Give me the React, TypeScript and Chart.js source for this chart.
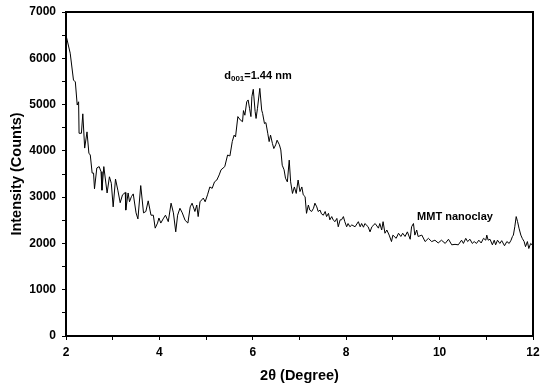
import React, { useEffect, useRef } from "react";
import { Chart, registerables } from "chart.js";

Chart.register(...registerables);

const twoTheta: number[] = [
  2.0, 2.09, 2.16, 2.2, 2.24, 2.27, 2.28, 2.33, 2.36, 2.4, 2.45, 2.49, 2.52, 2.56, 2.59, 2.61, 2.66, 2.71, 2.75, 2.77,
  2.81, 2.88, 2.93, 2.97, 3.01, 3.06, 3.11, 3.16, 3.21, 3.27, 3.28, 3.33, 3.36, 3.4, 3.44, 3.5, 3.54, 3.6, 3.66, 3.71,
  3.76, 3.82, 3.87, 3.91, 3.96, 3.99, 4.03, 4.08, 4.13, 4.19, 4.25, 4.3, 4.35, 4.39, 4.44, 4.49, 4.55, 4.61, 4.66, 4.7,
  4.76, 4.8, 4.83, 4.87, 4.94, 4.98, 5.03, 5.08, 5.13, 5.18, 5.23, 5.28, 5.32, 5.4, 5.46, 5.51, 5.56, 5.6, 5.63, 5.68,
  5.73, 5.78, 5.8, 5.83, 5.87, 5.9, 5.93, 5.96, 5.98, 6.01, 6.05, 6.07, 6.1, 6.15, 6.19, 6.21, 6.25, 6.28, 6.32, 6.35,
  6.38, 6.42, 6.45, 6.49, 6.52, 6.57, 6.6, 6.63, 6.67, 6.7, 6.74, 6.78, 6.81, 6.85, 6.89, 6.93, 6.97, 7.01, 7.05, 7.08,
  7.12, 7.15, 7.19, 7.22, 7.26, 7.3, 7.33, 7.37, 7.4, 7.44, 7.47, 7.51, 7.55, 7.58, 7.62, 7.65, 7.69, 7.72, 7.76, 7.8,
  7.83, 7.87, 7.9, 7.94, 7.97, 8.01, 8.04, 8.08, 8.12, 8.19, 8.26, 8.3, 8.33, 8.37, 8.4, 8.47, 8.51, 8.55, 8.62, 8.69,
  8.72, 8.76, 8.79, 8.83, 8.87, 8.92, 8.97, 9.0, 9.07, 9.12, 9.17, 9.21, 9.26, 9.31, 9.37, 9.4, 9.44, 9.47, 9.51, 9.54,
  9.62, 9.69, 9.76, 9.83, 9.9, 9.97, 10.04, 10.12, 10.19, 10.26, 10.33, 10.4, 10.47, 10.51, 10.56, 10.6, 10.65, 10.7, 10.74, 10.79,
  10.84, 10.89, 10.94, 10.99, 11.01, 11.04, 11.08, 11.13, 11.17, 11.2, 11.24, 11.29, 11.33, 11.39, 11.44, 11.49, 11.53, 11.56, 11.58, 11.61,
  11.64, 11.67, 11.7, 11.74, 11.77, 11.81, 11.84, 11.88, 11.91, 11.95, 11.98, 12.0,
];

const intensity: number[] = [
  6500, 6110, 5530, 5490, 4990, 5060, 4380, 4380, 4800, 4060, 4410, 3950, 3910, 3520, 3520, 3180, 3630, 3660, 3550, 3150,
  3660, 3090, 3440, 3300, 2790, 3390, 3150, 2880, 3050, 3100, 2720, 3090, 2900, 3010, 3070, 2660, 2530, 3250, 2660, 2690,
  2920, 2610, 2610, 2330, 2440, 2550, 2440, 2530, 2610, 2470, 2870, 2660, 2250, 2610, 2760, 2660, 2500, 2440, 2790, 2870,
  2690, 2830, 2580, 2900, 2980, 2900, 3050, 3220, 3190, 3330, 3370, 3480, 3590, 3660, 3910, 3890, 4200, 4340, 4300, 4740,
  4670, 4630, 4870, 4770, 5060, 5100, 4920, 4740, 5170, 5330, 4850, 4700, 4920, 5350, 4880, 4810, 4590, 4610, 4380, 4200,
  4340, 4160, 4050, 4130, 4230, 4130, 4020, 3690, 3590, 3410, 3330, 3800, 3330, 3080, 3220, 3080, 3370, 3120, 3220, 3050,
  3010, 2650, 2830, 2720, 2690, 2760, 2870, 2790, 2690, 2720, 2640, 2610, 2690, 2580, 2650, 2510, 2580, 2510, 2470, 2540,
  2360, 2510, 2510, 2580, 2470, 2360, 2430, 2360, 2400, 2360, 2470, 2360, 2430, 2350, 2430, 2360, 2250, 2360, 2430, 2330,
  2430, 2290, 2470, 2220, 2290, 2180, 2040, 2180, 2110, 2220, 2150, 2220, 2150, 2250, 2090, 2360, 2430, 2180, 2290, 2150,
  2180, 2040, 2110, 2040, 2070, 2010, 2070, 2000, 2090, 1970, 1980, 1970, 2070, 2000, 2110, 2040, 2090, 2000, 2040, 2000,
  2070, 2010, 2110, 2070, 2180, 2070, 2090, 1970, 2070, 1970, 2070, 2000, 2060, 1950, 2040, 2000, 2070, 2150, 2180, 2360,
  2580, 2470, 2330, 2180, 2110, 2040, 1930, 2040, 1890, 2000, 1970, 2000,
];

const peakLabel = { x: 6.11, y: 5620, main: "d", sub: "001", rest: "=1.44 nm" };
const sampleLabel = { x: 10.33, y: 2570, text: "MMT nanoclay" };

const FONT = "'Liberation Sans', Arial, sans-serif";

const framePlugin = {
  id: "frameAndNotes",
  afterDatasetsDraw(chart: any) {
    const { ctx, chartArea, scales } = chart;
    ctx.save();
    ctx.strokeStyle = "#000";
    ctx.lineWidth = 2;
    ctx.strokeRect(chartArea.left, chartArea.top, chartArea.right - chartArea.left, chartArea.bottom - chartArea.top);

    ctx.fillStyle = "#000";
    ctx.textBaseline = "middle";
    const px = scales.x.getPixelForValue(peakLabel.x);
    const py = scales.y.getPixelForValue(peakLabel.y);
    const mainFont = `bold 11px ${FONT}`;
    const subFont = `bold 8px ${FONT}`;
    ctx.font = mainFont;
    const w1 = ctx.measureText(peakLabel.main).width;
    const w3 = ctx.measureText(peakLabel.rest).width;
    ctx.font = subFont;
    const w2 = ctx.measureText(peakLabel.sub).width;
    let cx = px - (w1 + w2 + w3) / 2;
    ctx.textAlign = "left";
    ctx.font = mainFont;
    ctx.fillText(peakLabel.main, cx, py);
    cx += w1;
    ctx.font = subFont;
    ctx.fillText(peakLabel.sub, cx, py + 3);
    cx += w2;
    ctx.font = mainFont;
    ctx.fillText(peakLabel.rest, cx, py);

    const sx = scales.x.getPixelForValue(sampleLabel.x);
    const sy = scales.y.getPixelForValue(sampleLabel.y);
    ctx.textAlign = "center";
    ctx.font = `bold 11px ${FONT}`;
    ctx.fillText(sampleLabel.text, sx, sy);
    ctx.restore();
  },
};

export default function App() {
  const ref = useRef<HTMLCanvasElement | null>(null);

  useEffect(() => {
    if (!ref.current) return;
    const chart = new Chart(ref.current, {
      type: "line",
      data: {
        datasets: [
          {
            data: twoTheta.map((x, i) => ({ x, y: intensity[i] })),
            borderColor: "#000",
            borderWidth: 1,
            pointRadius: 0,
            tension: 0,
            fill: false,
          },
        ],
      },
      options: {
        animation: false,
        responsive: false,
        maintainAspectRatio: false,
        layout: { padding: { top: 12, right: 7, left: 0, bottom: 0 } },
        plugins: { legend: { display: false }, tooltip: { enabled: false } },
        scales: {
          x: {
            type: "linear",
            min: 2,
            max: 12,
            afterFit: (s: any) => {
              s.height = 51;
              s.paddingRight = 0;
              s.paddingLeft = 0;
            },
            border: { color: "#000", width: 2 },
            grid: { drawOnChartArea: false, drawTicks: true, tickLength: 4, color: "#000", lineWidth: 1 },
            ticks: {
              stepSize: 1,
              autoSkip: false,
              maxRotation: 0,
              padding: 5,
              color: "#000",
              font: { family: FONT, size: 12, weight: "bold" },
              callback: (v: any) => (Number(v) % 2 === 0 ? String(v) : ""),
            },
            title: {
              display: true,
              text: "2θ (Degree)",
              color: "#000",
              font: { family: FONT, size: 14.5, weight: "bold" },
              padding: { top: 0, bottom: 2 },
            },
          },
          y: {
            min: 0,
            max: 7000,
            afterFit: (s: any) => {
              s.width = 66;
              s.paddingTop = 0;
              s.paddingBottom = 0;
            },
            border: { color: "#000", width: 2 },
            grid: { drawOnChartArea: false, drawTicks: true, tickLength: 4, color: "#000", lineWidth: 1 },
            ticks: {
              stepSize: 500,
              autoSkip: false,
              padding: 6,
              color: "#000",
              font: { family: FONT, size: 12, weight: "bold" },
              callback: (v: any) => (Number(v) % 1000 === 0 ? String(v) : ""),
            },
            title: {
              display: true,
              text: "Intensity (Counts)",
              color: "#000",
              font: { family: FONT, size: 14.5, weight: "bold" },
              padding: { top: 8, bottom: 0 },
            },
          },
        },
      },
      plugins: [framePlugin],
    } as any);
    return () => chart.destroy();
  }, []);

  return (
    <div style={{ position: "fixed", left: 0, top: 0, width: 540, height: 387, background: "#fff" }}>
      <canvas ref={ref} width={540} height={387} style={{ width: 540, height: 387, display: "block" }} />
    </div>
  );
}
